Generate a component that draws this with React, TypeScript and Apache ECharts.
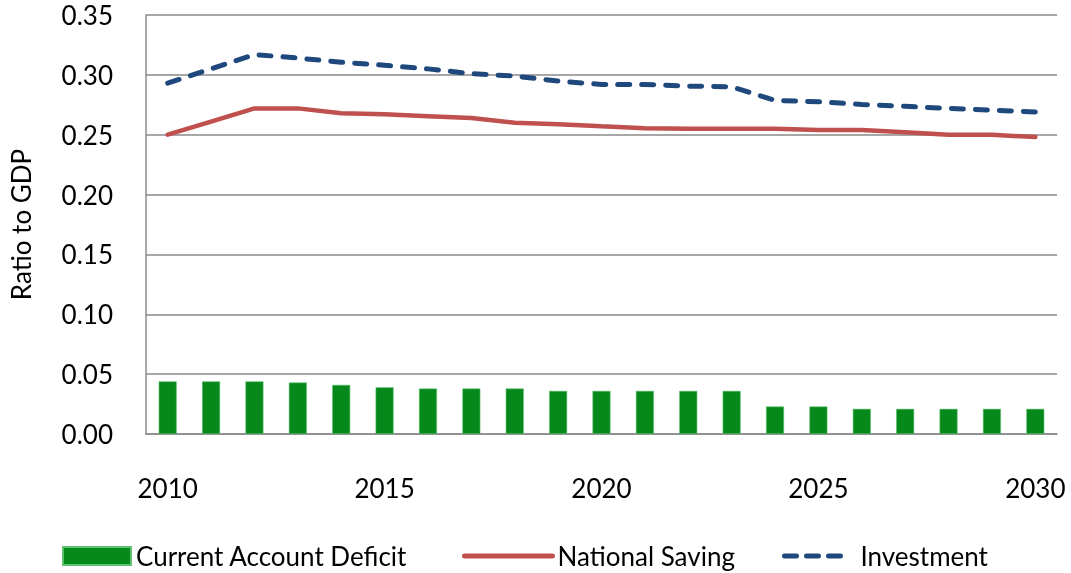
import React, { useEffect, useRef } from "react";
import * as echarts from "echarts";

const years = ["2010","2011","2012","2013","2014","2015","2016","2017","2018","2019","2020","2021","2022","2023","2024","2025","2026","2027","2028","2029","2030"];
const currentAccountDeficit = [0.044,0.044,0.044,0.043,0.041,0.039,0.038,0.038,0.038,0.036,0.036,0.036,0.036,0.036,0.023,0.023,0.021,0.021,0.021,0.021,0.021];
const nationalSaving = [0.250,0.261,0.272,0.272,0.268,0.267,0.2655,0.264,0.260,0.2587,0.257,0.2553,0.255,0.255,0.255,0.254,0.254,0.252,0.250,0.250,0.248];
const investment = [0.293,0.305,0.317,0.314,0.3106,0.308,0.305,0.301,0.299,0.2948,0.292,0.292,0.2906,0.290,0.2787,0.2775,0.2753,0.2737,0.272,0.2706,0.269];

const FONT = "Lato";
const FS = 26;
const GRAY = "#8a8a8a";
const RED = "#C0504D";
const BLUE = "#1F497D";

export default function App() {
  const ref = useRef<HTMLDivElement>(null);
  useEffect(() => {
    if (!ref.current) return;
    const chart = echarts.init(ref.current, undefined, { renderer: "svg" });
    const textStyle = { fontFamily: FONT, fontSize: FS, color: "#000", lineHeight: 26 };
    chart.setOption({
      animation: false,
      textStyle: { fontFamily: FONT },
      grid: { left: 141, right: 14, top: 15, bottom: 139, containLabel: false },
      legend: [
        {
          data: ["Current Account Deficit"],
          left: 57, top: 538, itemWidth: 68, itemHeight: 18, textStyle,
          icon: "rect",
        },
        {
          data: ["National Saving"],
          left: 457, top: 538, itemWidth: 88, itemHeight: 18, textStyle,
          itemStyle: { opacity: 0 },
          lineStyle: { color: RED, width: 5, cap: "round" },
        },
        {
          data: ["Investment"],
          left: 777, top: 538, itemWidth: 63, itemHeight: 18,
          textStyle: { ...textStyle, padding: [0, 0, 0, 8] },
          itemStyle: { opacity: 0 },
          lineStyle: { color: BLUE, width: 5, type: [12, 10], cap: "round" },
        },
      ],
      xAxis: {
        type: "category",
        data: years,
        boundaryGap: true,
        axisLine: { show: true, lineStyle: { color: GRAY, width: 1.5 } },
        axisTick: { show: false },
        axisLabel: {
          ...textStyle,
          margin: 41,
          interval: (i: number) => i % 5 === 0,
        },
      },
      yAxis: {
        type: "value",
        min: 0,
        max: 0.35,
        interval: 0.05,
        name: "Ratio to GDP",
        nameLocation: "middle",
        nameGap: 112,
        nameRotate: 90,
        nameTextStyle: { ...textStyle },
        axisLine: { show: true, lineStyle: { color: GRAY, width: 1.5 } },
        axisTick: { show: false },
        splitLine: { show: true, lineStyle: { color: GRAY, width: 1.5 } },
        axisLabel: {
          ...textStyle,
          lineHeight: 22,
          margin: 33,
          formatter: (v: number) => v.toFixed(2),
        },
      },
      series: [
        {
          name: "Current Account Deficit",
          type: "bar",
          data: currentAccountDeficit,
          barWidth: 18,
          itemStyle: { color: "#06891a", borderColor: "#5fc070", borderWidth: 0.6 },
        },
        {
          name: "National Saving",
          type: "line",
          data: nationalSaving,
          symbol: "none",
          lineStyle: { color: RED, width: 4.5, cap: "round" },
          itemStyle: { color: RED },
        },
        {
          name: "Investment",
          type: "line",
          data: investment,
          symbol: "none",
          lineStyle: { color: BLUE, width: 5, type: [12, 12], cap: "round" },
          itemStyle: { color: BLUE },
        },
      ],
    });
    return () => chart.dispose();
  }, []);
  return <div ref={ref} style={{ position: "fixed", left: 0, top: 0, width: 1071, height: 573 }} />;
}
